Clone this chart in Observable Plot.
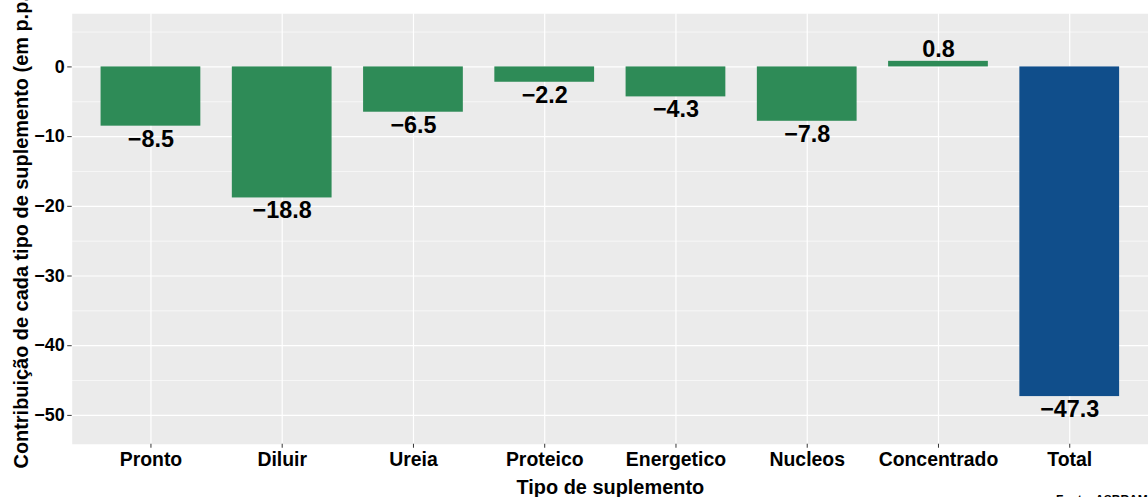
<!DOCTYPE html>
<html>
<head>
<meta charset="utf-8">
<script src="https://cdn.jsdelivr.net/npm/d3@7"></script>
<script src="https://cdn.jsdelivr.net/npm/@observablehq/plot@0.6"></script>
<style>
  html, body { margin: 0; padding: 0; background: #fff; overflow: hidden; }
  svg { display: block; }
</style>
</head>
<body>
<div id="chart"></div>
<script>
const categorias = ["Pronto", "Diluir", "Ureia", "Proteico", "Energetico", "Nucleos", "Concentrado", "Total"];
const valores = [-8.5, -18.8, -6.5, -2.2, -4.3, -7.8, 0.8, -47.3];
const cores = ["#2E8B57", "#2E8B57", "#2E8B57", "#2E8B57", "#2E8B57", "#2E8B57", "#2E8B57", "#104E8B"];
const ticksMaiores = [0, -10, -20, -30, -40, -50];
const ticksMenores = [5, -5, -15, -25, -35, -45];
const tituloX = "Tipo de suplemento";
const tituloY = "Contribuição de cada tipo de suplemento (em p.p.)";
const fonte = "Fonte: ASBRAM";

const dados = categorias.map((c, i) => ({tipo: c, valor: valores[i], cor: cores[i]}));
const fmt = d3.format(".1f");
const fmtTick = d3.format("d");
const FONT = "'Liberation Sans', Arial, Helvetica, sans-serif";

const plot = Plot.plot({
  width: 1153,
  height: 499,
  marginLeft: 72,
  marginRight: 0,
  marginTop: 13.3,
  marginBottom: 53.3,
  style: {fontFamily: FONT, fontWeight: "bold", color: "#000", background: "#fff", overflow: "visible"},
  x: {domain: categorias, paddingInner: 0.24, paddingOuter: 0.22, round: false, label: null},
  y: {domain: [-54.14, 7.63], label: null},
  color: {type: "identity"},
  marks: [
    Plot.frame({fill: "#EBEBEB", stroke: null}),
    Plot.gridY(ticksMenores, {stroke: "#fff", strokeOpacity: 1, strokeWidth: 0.6}),
    Plot.gridY(ticksMaiores, {stroke: "#fff", strokeOpacity: 1, strokeWidth: 1.2}),
    Plot.gridX(categorias, {stroke: "#fff", strokeOpacity: 1, strokeWidth: 1.2}),
    Plot.barY(dados, {x: "tipo", y: "valor", fill: "cor"}),
    Plot.text(dados.filter(d => d.valor < 0), {x: "tipo", y: "valor", text: d => fmt(d.valor), dy: 13, fontSize: 23.5, fontWeight: "bold", fill: "#000"}),
    Plot.text(dados.filter(d => d.valor >= 0), {x: "tipo", y: "valor", text: d => fmt(d.valor), dy: -11.5, fontSize: 23.5, fontWeight: "bold", fill: "#000"}),
    Plot.axisY(ticksMaiores, {tickSize: 4.5, tickPadding: 3, tickFormat: fmtTick, fontSize: 18, stroke: "#333", fill: "#000", label: null}),
    Plot.axisX({tickSize: 4, tickPadding: 4, fontSize: 19.5, stroke: "#333", fill: "#000", label: null}),
    Plot.text([tituloX], {frameAnchor: "bottom", dy: 36, lineAnchor: "top", fontSize: 20, fontWeight: "bold", fill: "#000"}),
    Plot.text([tituloY], {frameAnchor: "left", rotate: -90, dx: -51, textAnchor: "middle", lineAnchor: "middle", fontSize: 20, fontWeight: "bold", fill: "#000"}),
    Plot.text([fonte], {frameAnchor: "bottom-right", dx: -93, dy: 51.5, textAnchor: "start", lineAnchor: "top", fontSize: 12, fontWeight: "bold", fill: "#000"})
  ]
});
document.getElementById("chart").appendChild(plot);
</script>
</body>
</html>
